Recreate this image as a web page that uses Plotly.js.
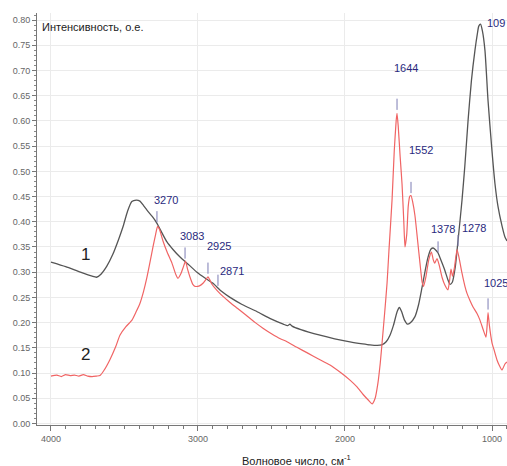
<!DOCTYPE html>
<html>
<head>
<meta charset="utf-8">
<script src="https://cdn.plot.ly/plotly-3.0.1.min.js"></script>
<style>
html,body{margin:0;padding:0;background:#fff;}
#chart{width:507px;height:466px;}
</style>
</head>
<body>
<div id="chart"></div>
<script>
// Curve 1 (black) — wavenumber, intensity
const wn1 = [4000,3900,3800,3720,3690,3660,3620,3580,3540,3510,3480,3450,3420,3395,3370,3347,3310,3279,3245,3211,3170,3122,3060,3007,2950,2898,2840,2782,2700,2600,2500,2420,2390,2375,2360,2300,2170,2070,1966,1880,1830,1780,1750,1720,1694,1670,1645,1630,1615,1595,1575,1555,1524,1500,1476,1450,1435,1415,1400,1380,1367,1345,1320,1300,1286,1270,1250,1231,1215,1204,1185,1163,1140,1116,1100,1090,1078,1065,1048,1027,1000,980,959,932,912,898];
const int1 = [0.320,0.311,0.300,0.292,0.290,0.296,0.312,0.335,0.365,0.390,0.420,0.440,0.443,0.441,0.432,0.423,0.410,0.397,0.378,0.360,0.345,0.330,0.314,0.300,0.288,0.278,0.262,0.250,0.236,0.222,0.207,0.197,0.194,0.197,0.193,0.186,0.175,0.168,0.162,0.158,0.156,0.155,0.156,0.162,0.175,0.195,0.222,0.230,0.222,0.205,0.197,0.200,0.212,0.235,0.270,0.310,0.330,0.346,0.348,0.343,0.338,0.322,0.303,0.285,0.276,0.280,0.310,0.363,0.410,0.443,0.510,0.600,0.680,0.740,0.772,0.788,0.792,0.778,0.740,0.640,0.540,0.476,0.430,0.392,0.370,0.362];

// Curve 2 (red)
const wn2 = [4000,3960,3930,3900,3870,3840,3810,3780,3750,3720,3690,3667,3640,3600,3560,3531,3490,3449,3420,3395,3370,3347,3325,3306,3288,3275,3262,3238,3210,3177,3150,3136,3115,3100,3085,3070,3054,3035,3020,2990,2966,2945,2932,2918,2905,2871,2830,2782,2730,2670,2610,2558,2500,2440,2400,2327,2250,2180,2102,2030,1966,1920,1878,1840,1815,1795,1776,1760,1748,1730,1714,1701,1680,1665,1652,1646,1638,1625,1612,1600,1592,1580,1570,1560,1551,1540,1524,1505,1490,1475,1465,1450,1430,1412,1400,1390,1374,1360,1340,1320,1300,1290,1279,1268,1255,1238,1225,1204,1184,1170,1150,1129,1102,1082,1061,1041,1033,1027,1018,1000,985,966,950,932,912,898];
const int2 = [0.094,0.096,0.093,0.097,0.095,0.096,0.094,0.097,0.094,0.093,0.094,0.095,0.105,0.126,0.152,0.175,0.192,0.205,0.222,0.238,0.262,0.290,0.322,0.350,0.375,0.391,0.385,0.362,0.340,0.318,0.295,0.288,0.298,0.310,0.322,0.305,0.290,0.276,0.272,0.273,0.278,0.286,0.291,0.284,0.276,0.264,0.252,0.240,0.228,0.214,0.200,0.189,0.178,0.168,0.163,0.151,0.139,0.128,0.116,0.101,0.086,0.073,0.058,0.046,0.039,0.050,0.080,0.120,0.159,0.220,0.278,0.343,0.443,0.540,0.600,0.615,0.590,0.530,0.475,0.400,0.350,0.375,0.430,0.450,0.452,0.440,0.412,0.360,0.318,0.280,0.272,0.290,0.325,0.340,0.325,0.318,0.327,0.315,0.290,0.274,0.265,0.280,0.306,0.292,0.310,0.345,0.330,0.298,0.272,0.258,0.244,0.231,0.218,0.205,0.187,0.171,0.195,0.220,0.195,0.160,0.145,0.126,0.115,0.106,0.118,0.122];

// Peak labels
const peakLabels = ['3270','3083','2925','2871','1644','1552','1378','1278','1025'];
const peakTickWn = [3279,3088,2932,2864,1646,1551,1367,1231,1027];
const peakTickInt = [0.410,0.338,0.308,0.284,0.633,0.468,0.350,0.363,0.237];
const peakTextWn = [3218,3041,2857,2769,1585,1483,1333,1122,973];
const peakTextInt = [0.443,0.371,0.351,0.302,0.704,0.542,0.385,0.387,0.278];
const topLabel = '109';
const topLabelWn = 1046;
const topLabelInt = 0.795;

// Curve numbers
const curveNames = ['1','2'];
const curveNameWn = [3762,3762];
const curveNameInt = [0.336,0.136];

const yTitle = 'Интенсивность, о.е.';
const xTitle = 'Волновое число, см<sup>-1</sup>';

const FONT = 'Liberation Sans, Arial, sans-serif';
const LABEL_COLOR = '#2a2a7e';

const traces = [
  {x: wn1, y: int1, type:'scatter', mode:'lines', line:{color:'#555555', width:1.3, shape:'spline', smoothing:0.6}, hoverinfo:'skip'},
  {x: wn2, y: int2, type:'scatter', mode:'lines', line:{color:'#f06464', width:1.2, shape:'spline', smoothing:0.5}, hoverinfo:'skip'},
  {x: peakTickWn, y: peakTickInt, type:'scatter', mode:'markers',
   marker:{symbol:'line-ns-open', size:8, color:'#7c7cb4', line:{color:'#7c7cb4', width:1}}, hoverinfo:'skip'}
];

const annotations = [];
peakLabels.forEach((t,i)=>{
  annotations.push({x: peakTextWn[i], y: peakTextInt[i], xref:'x', yref:'y', text:t, showarrow:false,
    font:{family:FONT, size:11, color:LABEL_COLOR}});
});
annotations.push({x: topLabelWn, y: topLabelInt, xref:'x', yref:'y', text: topLabel, showarrow:false,
  xanchor:'left', font:{family:FONT, size:11, color:LABEL_COLOR}});
curveNames.forEach((t,i)=>{
  annotations.push({x: curveNameWn[i], y: curveNameInt[i], xref:'x', yref:'y', text:t, showarrow:false,
    font:{family:FONT, size:17, color:'#222'}});
});
annotations.push({x:0.007, y:0.966, xref:'paper', yref:'paper', xanchor:'left', yanchor:'middle',
  text: yTitle, showarrow:false, font:{family:FONT, size:11, color:'#222'}});
annotations.push({x:0.553, y:-0.085, xref:'paper', yref:'paper', xanchor:'center', yanchor:'middle',
  text: xTitle, showarrow:false, font:{family:FONT, size:11, color:'#222'}});

const layout = {
  width:507, height:466,
  margin:{l:37, r:0, t:13, b:41, pad:0},
  paper_bgcolor:'#fff', plot_bgcolor:'#fff',
  showlegend:false,
  font:{family:FONT},
  xaxis:{
    range:[4095, 898], tick0:0, dtick:1000,
    ticks:'outside', ticklen:5, tickcolor:'#777', tickwidth:1,
    minor:{dtick:100, ticks:'outside', ticklen:3, tickcolor:'#777', showgrid:false},
    showgrid:true, gridcolor:'#ebebeb', zeroline:false,
    showline:true, linecolor:'#777', linewidth:1,
    tickfont:{family:FONT, size:9, color:'#666'}
  },
  yaxis:{
    range:[-0.003, 0.814], tick0:0, dtick:0.05, tickformat:'.2f',
    ticks:'outside', ticklen:4, tickcolor:'#777',
    minor:{dtick:0.01, ticks:'outside', ticklen:2, tickcolor:'#888', showgrid:false},
    showgrid:true, gridcolor:'#ebebeb', zeroline:false,
    showline:true, linecolor:'#777', linewidth:1,
    tickfont:{family:FONT, size:9, color:'#666'}
  },
  annotations: annotations
};

Plotly.newPlot('chart', traces, layout, {staticPlot:true, displayModeBar:false});
</script>
</body>
</html>
